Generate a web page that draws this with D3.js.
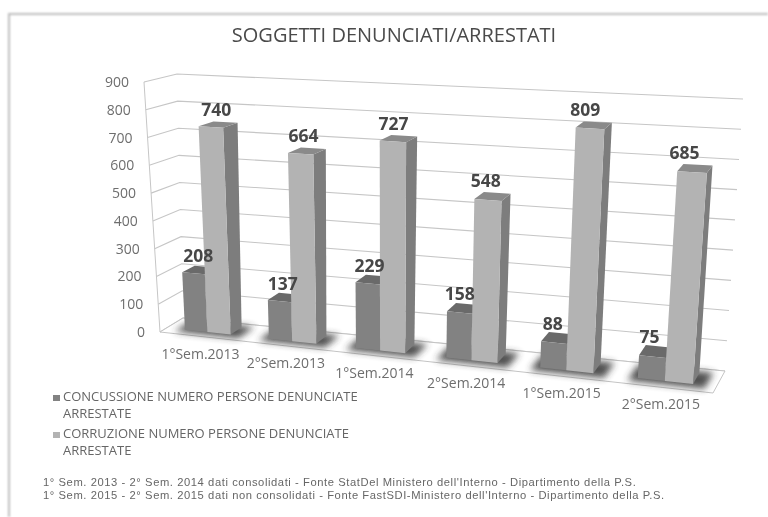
<!DOCTYPE html>
<html><head><meta charset="utf-8">
<script src="https://cdn.jsdelivr.net/npm/d3@7"></script>
<style>
html,body{margin:0;padding:0;background:#fff}
svg{display:block;filter:blur(0.6px)}
text{font-family:"Open Sans","Noto Sans",sans-serif}
</style></head><body><div id="c"></div>
<script>
const categories=["1°Sem.2013","2°Sem.2013","1°Sem.2014","2°Sem.2014","1°Sem.2015","2°Sem.2015"];
const concussione=[208,137,229,158,88,75];
const corruzione=[740,664,727,548,809,685];
const yTicks=[0,100,200,300,400,500,600,700,800,900];
const seriesNames=["CONCUSSIONE NUMERO PERSONE DENUNCIATE","CORRUZIONE NUMERO PERSONE DENUNCIATE"];
const titleText="SOGGETTI DENUNCIATI/ARRESTATI";
const notes=["1° Sem. 2013 - 2° Sem. 2014 dati consolidati - Fonte StatDel Ministero dell'Interno - Dipartimento della P.S.",
"1° Sem. 2015 - 2° Sem. 2015 dati non consolidati - Fonte FastSDI-Ministero dell'Interno - Dipartimento della P.S."];

const W=768,H=517;
const svg=d3.select("#c").append("svg").attr("width",W).attr("height",H);
const defs=svg.append("defs");
defs.append("filter").attr("id","sh").attr("x","-30%").attr("y","-60%").attr("width","160%").attr("height","220%")
 .append("feGaussianBlur").attr("stdDeviation",3.5);
defs.append("filter").attr("id","fr").attr("x","-5%").attr("y","-5%").attr("width","110%").attr("height","110%")
 .append("feGaussianBlur").attr("stdDeviation",0.8);

svg.append("path").attr("d",d3.line()([[9,517],[9,14],[768,14]]))
 .attr("fill","none").attr("stroke","#bdbdbd").attr("stroke-width",2).attr("filter","url(#fr)");

const band=d3.scaleBand().domain(categories).range([0,1]);
const yS=d3.scaleLinear().domain([0,900]).range([0,1]);
const persp=0.12;
const warp=u=>u/(u+(1+persp)*(1-u));
const C={flb:[160,332],flt:[144,82],blb:[183,318],blt:[177,74],
         frb:[713,393],frt:[733,112],brb:[725,371],brt:[743,99]};
const lerp=(a,b,t)=>[a[0]+(b[0]-a[0])*t,a[1]+(b[1]-a[1])*t];
function P(u,v,z){
 const w=warp(u);
 const f=lerp(lerp(C.flb,C.frb,w),lerp(C.flt,C.frt,w),v);
 const b=lerp(lerp(C.blb,C.brb,w),lerp(C.blt,C.brt,w),v);
 return lerp(f,b,z);
}
const line=d3.line();
const poly=(pts)=>line(pts)+"Z";

const g=svg.append("g");
g.append("g").selectAll("path").data(yTicks).join("path")
 .attr("d",d=>line([P(0,yS(d),0),P(0,yS(d),1),P(1,yS(d),1)]))
 .attr("fill","none").attr("stroke","#c6c6c6").attr("stroke-width",1.1);
g.append("path").attr("d",line([P(0,0,0),P(0,1,0)])).attr("fill","none").attr("stroke","#c6c6c6");
g.append("path").attr("d",poly([P(0,0,0),P(1,0,0),P(1,0,1),P(0,0,1)]))
 .attr("fill","#fff").attr("stroke","#c4c4c4").attr("stroke-width",1);

const z0=0.3,z1=0.8;
const bw=band.bandwidth();
const slots=[[0.22,0.49],[0.49,0.77]];
const series=[
 {values:concussione,slot:slots[0],front:"#828282",side:"#6f6f6f",top:"#6a6a6a",lift:8,drift:6},
 {values:corruzione,slot:slots[1],front:"#b3b3b3",side:"#7d7d7d",top:"#8a8a8a",lift:9,drift:10}];
const colors=d3.scaleOrdinal().domain(seriesNames).range(["#828282","#b3b3b3"]);

g.append("g").selectAll("path").data(categories).join("path")
 .attr("d",c=>{const u0=band(c)+bw*0.14,u1=band(c)+bw*0.9;
  return poly([P(u0,0,0.14),P(u1,0,0.14),P(u1,0,0.88),P(u0,0,0.88)]);})
 .attr("fill","#333").attr("opacity",0.85).attr("filter","url(#sh)");

const bars=g.append("g");
categories.forEach((c,i)=>{
 series.forEach(s=>{
  const a=band(c)+bw*s.slot[0],b=band(c)+bw*s.slot[1],v=yS(s.values[i]);
  const bg=bars.append("g");
  bg.append("path").attr("d",poly([P(b,0,z0),P(b,0,z1),P(b,v,z1),P(b,v,z0)])).attr("fill",s.side);
  bg.append("path").attr("d",poly([P(a,v,z0),P(b,v,z0),P(b,v,z1),P(a,v,z1)])).attr("fill",s.top);
  bg.append("path").attr("d",poly([P(a,0,z0),P(b,0,z0),P(b,v,z0),P(a,v,z0)])).attr("fill",s.front);
 });
});

const labels=g.append("g").attr("font-weight",700).attr("font-size",17.5).attr("fill","#474747").attr("text-anchor","middle");
categories.forEach((c,i)=>{
 series.forEach(s=>{
  const a=band(c)+bw*s.slot[0],b=band(c)+bw*s.slot[1],v=yS(s.values[i]),m=(a+b)/2;
  const p=P(m,v,(z0+z1)/2);
  labels.append("text").attr("x",p[0]-1-s.drift*warp(m)).attr("y",p[1]-s.lift).text(s.values[i]);
 });
});

g.append("g").selectAll("text").data(yTicks).join("text")
 .attr("x",d=>P(0,yS(d),0)[0]-15).attr("y",d=>P(0,yS(d),0)[1]+5)
 .attr("text-anchor","end").attr("font-size",14).attr("fill","#6e6e6e").text(d=>d);

g.append("g").selectAll("text").data(categories).join("text")
 .attr("x",c=>P(band(c)+bw*0.5,0,0)[0]-1).attr("y",c=>P(band(c)+bw*0.5,0,0)[1]+22)
 .attr("text-anchor","middle").attr("font-size",14).attr("fill","#6e6e6e").text(d=>d);

svg.append("text").attr("x",394).attr("y",42).attr("text-anchor","middle")
 .attr("font-size",20).attr("font-weight",500).attr("fill","#4a4a4a").text(titleText);

const lg=svg.append("g").attr("font-size",13).attr("fill","#666");
seriesNames.forEach((n,i)=>{
 const y=401+i*37;
 lg.append("rect").attr("x",53).attr("y",y-6).attr("width",7).attr("height",6).attr("fill",colors(n));
 lg.append("text").attr("x",63).attr("y",y).text(n);
 lg.append("text").attr("x",63).attr("y",y+16.5).text("ARRESTATE");
});
svg.append("g").attr("font-size",11.2).attr("letter-spacing",0.58).attr("fill","#666")
 .selectAll("text").data(notes).join("text")
 .style("font-family","'Liberation Sans',sans-serif")
 .attr("x",43).attr("y",(d,i)=>486+i*13).text(d=>d);
</script></body></html>
